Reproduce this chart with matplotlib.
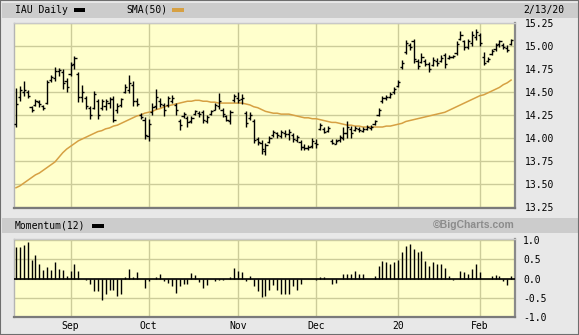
import matplotlib.pyplot as plt
from matplotlib.patches import Rectangle

# ---- data, one entry per trading day 8/13/19 .. 2/13/20 ----
opens = [14.15, 14.45, 14.50, 14.50, 14.34, 14.36, 14.39, 14.35, 14.38, 14.63,
         14.65, 14.73, 14.72, 14.62, 14.70, 14.80, 14.70, 14.45, 14.44, 14.33,
         14.33, 14.40, 14.33, 14.35, 14.38, 14.42, 14.30, 14.36, 14.50, 14.52,
         14.58, 14.40, 14.25, 14.20, 14.02, 14.28, 14.35, 14.40, 14.36, 14.36,
         14.40, 14.36, 14.19, 14.24, 14.22, 14.18, 14.26, 14.27, 14.28, 14.18,
         14.26, 14.31, 14.35, 14.31, 14.24, 14.18, 14.41, 14.44, 14.42, 14.27,
         14.22, 14.19, 13.99, 13.95, 13.86, 13.96, 14.03, 14.05, 14.02, 14.06,
         14.04, 14.03, 13.98, 13.96, 13.90, 13.89, 13.91, 13.95, 14.10, 14.10,
         14.08, 13.97, 13.94, 13.98, 14.00, 14.05, 14.10, 14.09, 14.10, 14.08,
         14.10, 14.11, 14.15, 14.25, 14.40, 14.43, 14.45, 14.50, 14.57, 14.77,
         14.93, 15.01, 15.05, 14.84, 14.83, 14.84, 14.80, 14.79, 14.84, 14.84,
         14.90, 14.87, 14.88, 14.92, 15.08, 15.05, 14.99, 15.03, 15.10, 15.12,
         14.88, 14.84, 14.91, 14.97, 15.02, 15.01, 14.98, 15.02]
highs = [14.54, 14.57, 14.62, 14.52, 14.35, 14.42, 14.41, 14.36, 14.63, 14.68,
         14.77, 14.76, 14.75, 14.65, 14.83, 14.89, 14.72, 14.58, 14.46, 14.35,
         14.51, 14.42, 14.42, 14.42, 14.45, 14.46, 14.38, 14.44, 14.59, 14.68,
         14.62, 14.43, 14.27, 14.23, 14.21, 14.38, 14.53, 14.43, 14.38, 14.46,
         14.47, 14.38, 14.21, 14.28, 14.24, 14.24, 14.31, 14.29, 14.30, 14.25,
         14.31, 14.38, 14.49, 14.33, 14.25, 14.31, 14.48, 14.50, 14.48, 14.29,
         14.28, 14.21, 14.01, 13.98, 13.95, 14.02, 14.09, 14.07, 14.09, 14.09,
         14.10, 14.05, 14.03, 13.98, 13.93, 13.92, 14.00, 13.99, 14.16, 14.12,
         14.13, 13.99, 13.99, 14.03, 14.12, 14.19, 14.13, 14.13, 14.12, 14.12,
         14.14, 14.14, 14.20, 14.33, 14.46, 14.47, 14.50, 14.56, 14.63, 14.85,
         15.07, 15.03, 15.08, 14.86, 14.92, 14.86, 14.83, 14.88, 14.87, 14.90,
         14.92, 14.90, 14.90, 15.05, 15.16, 15.07, 15.08, 15.16, 15.18, 15.14,
         14.93, 14.88, 14.97, 15.03, 15.07, 15.03, 15.01, 15.08]
lows = [14.12, 14.40, 14.46, 14.43, 14.28, 14.35, 14.34, 14.31, 14.37, 14.61,
        14.62, 14.67, 14.53, 14.50, 14.67, 14.75, 14.39, 14.39, 14.32, 14.21,
        14.32, 14.21, 14.31, 14.30, 14.33, 14.17, 14.27, 14.34, 14.49, 14.49,
        14.35, 14.35, 14.21, 13.99, 13.97, 14.25, 14.32, 14.34, 14.24, 14.34,
        14.38, 14.25, 14.09, 14.22, 14.12, 14.16, 14.25, 14.23, 14.16, 14.16,
        14.25, 14.30, 14.32, 14.23, 14.18, 14.15, 14.39, 14.38, 14.37, 14.12,
        14.20, 13.95, 13.92, 13.83, 13.82, 13.95, 14.01, 14.00, 14.00, 14.01,
        13.98, 13.96, 13.96, 13.87, 13.87, 13.87, 13.89, 13.89, 14.09, 14.05,
        14.07, 13.93, 13.93, 13.96, 13.98, 14.00, 14.00, 14.08, 14.07, 14.07,
        14.09, 14.09, 14.14, 14.24, 14.38, 14.41, 14.43, 14.48, 14.56, 14.75,
        14.91, 14.96, 14.81, 14.75, 14.81, 14.78, 14.72, 14.78, 14.78, 14.83,
        14.76, 14.86, 14.87, 14.90, 15.06, 14.96, 14.97, 15.00, 15.07, 15.00,
        14.79, 14.83, 14.90, 14.95, 14.99, 14.97, 14.93, 15.01]
closes = [14.37, 14.52, 14.52, 14.46, 14.30, 14.40, 14.37, 14.33, 14.61, 14.66,
          14.73, 14.74, 14.60, 14.55, 14.79, 14.87, 14.45, 14.50, 14.35, 14.25,
          14.48, 14.25, 14.40, 14.40, 14.42, 14.20, 14.35, 14.42, 14.55, 14.60,
          14.40, 14.37, 14.23, 14.03, 14.15, 14.34, 14.45, 14.37, 14.30, 14.43,
          14.44, 14.30, 14.14, 14.26, 14.17, 14.22, 14.29, 14.26, 14.20, 14.23,
          14.29, 14.36, 14.40, 14.26, 14.20, 14.28, 14.46, 14.41, 14.44, 14.16,
          14.25, 13.98, 13.96, 13.88, 13.92, 14.00, 14.07, 14.03, 14.07, 14.04,
          14.07, 13.99, 14.01, 13.90, 13.89, 13.90, 13.97, 13.93, 14.14, 14.07,
          14.11, 13.95, 13.97, 14.01, 14.06, 14.12, 14.05, 14.11, 14.09, 14.10,
          14.12, 14.12, 14.18, 14.31, 14.44, 14.45, 14.48, 14.53, 14.61, 14.82,
          15.03, 14.99, 14.86, 14.78, 14.88, 14.80, 14.75, 14.85, 14.82, 14.87,
          14.80, 14.88, 14.89, 15.02, 15.12, 14.99, 15.05, 15.12, 15.15, 15.03,
          14.82, 14.86, 14.95, 15.01, 15.05, 14.99, 14.96, 15.06]
sma50 = [13.46, 13.48, 13.51, 13.54, 13.57, 13.60, 13.62, 13.65, 13.68, 13.71,
         13.74, 13.79, 13.84, 13.88, 13.91, 13.94, 13.97, 13.99, 14.01, 14.03,
         14.05, 14.07, 14.08, 14.10, 14.11, 14.13, 14.14, 14.16, 14.18, 14.20,
         14.22, 14.24, 14.25, 14.27, 14.28, 14.29, 14.31, 14.32, 14.34, 14.35,
         14.36, 14.37, 14.38, 14.39, 14.40, 14.40, 14.41, 14.41, 14.40, 14.40,
         14.39, 14.39, 14.38, 14.38, 14.38, 14.38, 14.38, 14.38, 14.38, 14.37,
         14.36, 14.34, 14.33, 14.31, 14.29, 14.28, 14.27, 14.27, 14.26, 14.26,
         14.26, 14.25, 14.24, 14.23, 14.22, 14.22, 14.21, 14.21, 14.20, 14.19,
         14.18, 14.17, 14.17, 14.16, 14.15, 14.14, 14.14, 14.13, 14.13, 14.12,
         14.12, 14.12, 14.12, 14.12, 14.12, 14.13, 14.13, 14.14, 14.15, 14.16,
         14.18, 14.19, 14.20, 14.21, 14.22, 14.23, 14.24, 14.25, 14.26, 14.27,
         14.28, 14.30, 14.32, 14.34, 14.36, 14.38, 14.40, 14.42, 14.44, 14.46,
         14.47, 14.49, 14.51, 14.53, 14.55, 14.58, 14.60, 14.63]
momentum = [0.82, 0.82, 0.88, 0.96, 0.48, 0.61, 0.38, 0.22, 0.30, 0.22,
            0.43, 0.25, 0.22, 0.06, 0.19, 0.38, 0.19, 0.00, -0.04, -0.15,
            -0.32, -0.32, -0.55, -0.41, -0.29, -0.29, -0.46, -0.39, 0.03, 0.25,
            0.03, 0.17, 0.00, -0.25, -0.06, 0.00, 0.04, 0.11, -0.06, -0.11,
            -0.20, -0.38, -0.20, -0.15, -0.15, 0.14, 0.09, -0.08, -0.25, -0.18,
            0.00, -0.06, -0.03, -0.03, 0.00, 0.04, 0.27, 0.19, 0.17, -0.06,
            0.06, -0.20, -0.32, -0.48, -0.46, -0.29, -0.17, -0.31, -0.40, -0.40,
            -0.39, -0.20, -0.29, -0.14, 0.00, 0.00, 0.00, -0.04, 0.04, 0.04,
            0.00, -0.13, -0.12, 0.00, 0.11, 0.11, 0.11, 0.19, 0.11, 0.11,
            0.00, 0.00, 0.06, 0.34, 0.46, 0.43, 0.39, 0.44, 0.48, 0.70,
            0.85, 0.90, 0.77, 0.70, 0.72, 0.46, 0.34, 0.43, 0.38, 0.38,
            0.27, 0.06, -0.04, 0.00, 0.19, 0.17, 0.12, 0.25, 0.38, 0.17,
            0.00, 0.00, 0.06, 0.09, 0.06, -0.06, -0.17, 0.06]
month_labels = ['Sep', 'Oct', 'Nov', 'Dec', '20', 'Feb']
month_idx = [14, 34, 57, 77, 98, 119]   # first trading day of each month
price_ticks = [13.25, 13.50, 13.75, 14.00, 14.25, 14.50, 14.75, 15.00, 15.25]
mom_ticks = [-1.0, -0.5, 0.0, 0.5, 1.0]

# ---- style ----
W, H = 579, 335
BG = '#e8e8e8'
BAND = '#cccccc'
PLOT = '#ffffcc'
GRID = '#cccc99'
SMA_C = '#d6a043'
MONO = 'DejaVu Sans Mono'

def fx(px):
    return px / W

def fy(py):
    return 1 - py / H

fig = plt.figure(figsize=(W / 100, H / 100), dpi=100, facecolor=BG)

# header bands + outer frame
fig.patches.append(Rectangle((fx(2), fy(17.5)), fx(576), 14.5 / H, transform=fig.transFigure,
                             facecolor=BAND, edgecolor='none', zorder=0))
fig.patches.append(Rectangle((fx(2), fy(233)), fx(576), 15 / H, transform=fig.transFigure,
                             facecolor=BAND, edgecolor='none', zorder=0))
fig.patches.append(Rectangle((0, 0), 1, 1, transform=fig.transFigure, facecolor='none',
                             edgecolor='#6e6e6e', linewidth=1.5, zorder=0))

# legend swatches
fig.patches.append(Rectangle((fx(74), fy(12)), fx(11), 4 / H, transform=fig.transFigure,
                             facecolor='black', edgecolor='none'))
fig.patches.append(Rectangle((fx(172), fy(12)), fx(12), 4 / H, transform=fig.transFigure,
                             facecolor=SMA_C, edgecolor='none'))
fig.patches.append(Rectangle((fx(92), fy(227.5)), fx(12), 4 / H, transform=fig.transFigure,
                             facecolor='black', edgecolor='none'))

fig.text(fx(15), fy(10), 'IAU Daily', family=MONO, fontsize=7, va='center', ha='left')
fig.text(fx(126), fy(10), 'SMA(50)', family=MONO, fontsize=7, va='center', ha='left')
fig.text(fx(523), fy(10), '2/13/20', family=MONO, fontsize=7, va='center', ha='left')
fig.text(fx(15), fy(225.5), 'Momentum(12)', family=MONO, fontsize=7, va='center', ha='left')
fig.text(fx(515), fy(225.5), '©BigCharts.com', family='Liberation Sans', fontweight='bold',
         fontsize=7.5, color='#8c8c8c', va='center', ha='right')

x = list(range(len(closes)))

def style_axes(ax):
    ax.set_facecolor(PLOT)
    ax.set_xlim(-0.5, 128)
    ax.set_xticks(month_idx)
    ax.grid(True, color=GRID, linewidth=1.0)
    ax.set_axisbelow(True)
    ax.yaxis.tick_right()
    ax.tick_params(axis='both', length=0, labelsize=7)
    for lab in ax.get_yticklabels() + ax.get_xticklabels():
        lab.set_family(MONO)
    ax.spines['left'].set_color('#b4b4b4')
    ax.spines['top'].set_color('#c8c8c8')
    ax.spines['right'].set_color('#8a8a8a')
    ax.spines['bottom'].set_color('#7a7a7a')
    ax.spines['left'].set_linewidth(1.0)
    ax.spines['top'].set_linewidth(1.0)
    ax.spines['right'].set_linewidth(1.6)
    ax.spines['bottom'].set_linewidth(1.6)

# ---- price panel ----
ax = fig.add_axes([fx(14), fy(208), fx(501), 185 / H])
ax.vlines(x, lows, highs, color='black', linewidth=1.0, zorder=3)
ax.hlines(opens, [i - 0.55 for i in x], x, color='black', linewidth=1.0, zorder=3)
ax.hlines(closes, x, [i + 0.55 for i in x], color='black', linewidth=1.0, zorder=3)
ax.plot(x, sma50, color=SMA_C, linewidth=1.1, zorder=2)
ax.set_ylim(13.24, 15.25)
ax.set_yticks(price_ticks)
ax.set_yticklabels(['%.2f' % t for t in price_ticks])
ax.set_xticklabels([])
ax.tick_params(axis='y', pad=7)
style_axes(ax)

# ---- momentum panel ----
ax2 = fig.add_axes([fx(14), fy(317), fx(501), 78 / H])
ax2.vlines(x, 0, momentum, color='black', linewidth=1.0, zorder=3)
ax2.axhline(0, color='black', linewidth=1.2, zorder=3)
ax2.set_ylim(-1.0, 1.03)
ax2.set_yticks(mom_ticks)
ax2.set_yticklabels(['%.1f' % t for t in mom_ticks])
ax2.set_xticklabels(month_labels)
ax2.tick_params(axis='y', pad=6)
ax2.tick_params(axis='x', pad=3)
style_axes(ax2)

fig.savefig('out.png', dpi=100, facecolor=BG)
